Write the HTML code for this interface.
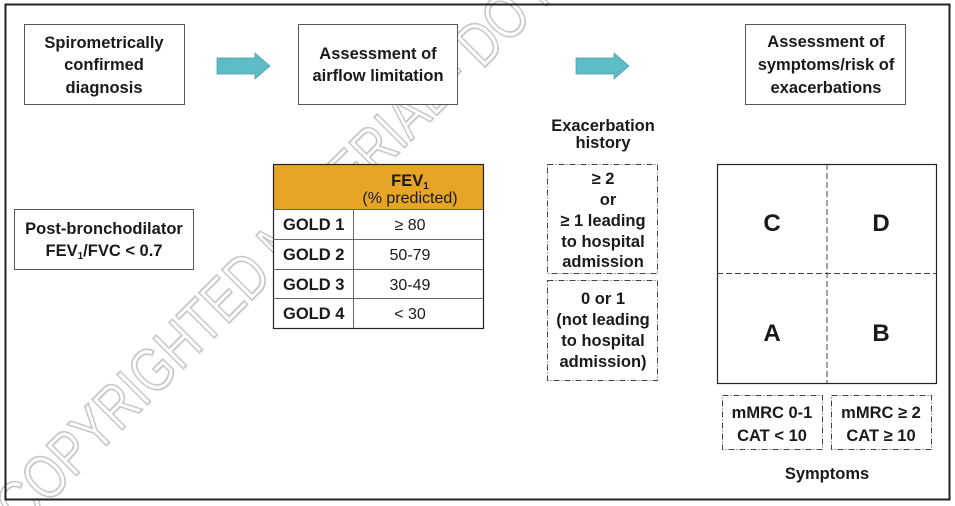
<!DOCTYPE html>
<html><head><meta charset="utf-8"><style>
html,body{margin:0;padding:0;background:#fff;width:955px;height:506px;overflow:hidden;}
svg{display:block;}
text{font-family:"Liberation Sans",sans-serif;fill:#1a1a1a;}
.b{font-weight:bold;}
</style></head><body>
<svg width="955" height="506" viewBox="0 0 955 506" xmlns="http://www.w3.org/2000/svg">
<rect x="0" y="0" width="955" height="506" fill="#fff"/>
<!-- watermark -->
<text x="0" y="0" transform="translate(22,530) rotate(-45) scale(0.9,1.15)" font-size="54" style="fill:none;stroke:#c8c8c8;stroke-width:1.6">COPYRIGHTED MATERIAL - DO NOT DUPLICATE</text>
<rect x="5.5" y="4.5" width="944" height="495" fill="none" stroke="#222" stroke-width="2"/>

<!-- top boxes -->
<rect x="24.5" y="24.5" width="160" height="80" fill="#fff" stroke="#555" stroke-width="1"/>
<text class="b" text-anchor="middle" font-size="16.5"><tspan x="104" y="48">Spirometrically</tspan><tspan x="104" y="70">confirmed</tspan><tspan x="104" y="93">diagnosis</tspan></text>
<rect x="298.5" y="24.5" width="159" height="80" fill="#fff" stroke="#555" stroke-width="1"/>
<text class="b" text-anchor="middle" font-size="16.5"><tspan x="378" y="59">Assessment of</tspan><tspan x="378" y="81">airflow limitation</tspan></text>
<rect x="745.5" y="24.5" width="160" height="80" fill="#fff" stroke="#555" stroke-width="1"/>
<text class="b" text-anchor="middle" font-size="16.5"><tspan x="826" y="47">Assessment of</tspan><tspan x="826" y="70">symptoms/risk of</tspan><tspan x="826" y="93">exacerbations</tspan></text>

<!-- arrows -->
<polygon points="217,58 255,58 255,53 270,66 255,79 255,74 217,74" fill="#5dbcc6" stroke="#4a9aa3" stroke-width="0.7"/>
<polygon points="576,58 614,58 614,53 629,66 614,79 614,74 576,74" fill="#5dbcc6" stroke="#4a9aa3" stroke-width="0.7"/>

<!-- post-bronchodilator -->
<rect x="14.5" y="209.5" width="179" height="60" fill="#fff" stroke="#555" stroke-width="1"/>
<text class="b" text-anchor="middle" font-size="16.5"><tspan x="104" y="234">Post-bronchodilator</tspan><tspan x="104" y="256">FEV<tspan font-size="10" dy="3">1</tspan><tspan dy="-3">/FVC &lt; 0.7</tspan></tspan></text>

<!-- table -->
<rect x="273" y="164" width="210" height="164" fill="#fff"/>
<rect x="273" y="164" width="210" height="45" fill="#e6a526"/>
<rect x="273.5" y="164.5" width="210" height="164" fill="none" stroke="#222" stroke-width="1.2"/>
<line x1="273" y1="209.5" x2="483" y2="209.5" stroke="#666"/>
<line x1="273" y1="239.5" x2="483" y2="239.5" stroke="#666"/>
<line x1="273" y1="269.5" x2="483" y2="269.5" stroke="#666"/>
<line x1="273" y1="298.5" x2="483" y2="298.5" stroke="#666"/>
<line x1="353.5" y1="209" x2="353.5" y2="328" stroke="#666"/>
<text class="b" text-anchor="middle" font-size="16.5" x="410" y="186">FEV<tspan font-size="10" dy="3">1</tspan></text>
<text text-anchor="middle" font-size="16" x="410" y="203">(% predicted)</text>
<text class="b" font-size="16.5"><tspan x="283" y="230">GOLD 1</tspan><tspan x="283" y="260">GOLD 2</tspan><tspan x="283" y="290">GOLD 3</tspan><tspan x="283" y="319">GOLD 4</tspan></text>
<text text-anchor="middle" font-size="16"><tspan x="410" y="230">≥ 80</tspan><tspan x="410" y="260">50-79</tspan><tspan x="410" y="290">30-49</tspan><tspan x="410" y="319">&lt; 30</tspan></text>

<!-- exacerbation -->
<text class="b" text-anchor="middle" font-size="16.5"><tspan x="603" y="131">Exacerbation</tspan><tspan x="603" y="148">history</tspan></text>
<rect x="547.5" y="164.5" width="110" height="109" fill="#fff" stroke="#444" stroke-width="1" stroke-dasharray="6,2,1,2"/>
<text class="b" text-anchor="middle" font-size="16.5"><tspan x="603" y="184">≥ 2</tspan><tspan x="608" y="205">or</tspan><tspan x="603" y="226">≥ 1 leading</tspan><tspan x="603" y="247">to hospital</tspan><tspan x="603" y="267">admission</tspan></text>
<rect x="547.5" y="280.5" width="110" height="100" fill="#fff" stroke="#444" stroke-width="1" stroke-dasharray="6,2,1,2"/>
<text class="b" text-anchor="middle" font-size="16.5"><tspan x="603" y="304">0 or 1</tspan><tspan x="603" y="325">(not leading</tspan><tspan x="603" y="346">to hospital</tspan><tspan x="603" y="367">admission)</tspan></text>

<!-- grid -->
<rect x="717.5" y="164.5" width="219" height="219" fill="#fff" stroke="#222" stroke-width="1.2"/>
<line x1="827" y1="164" x2="827" y2="383" stroke="#444" stroke-dasharray="6,3"/>
<line x1="717" y1="273.5" x2="936" y2="273.5" stroke="#444" stroke-dasharray="6,3"/>
<text class="b" text-anchor="middle" font-size="24"><tspan x="772" y="231">C</tspan><tspan x="881" y="231">D</tspan><tspan x="772" y="341">A</tspan><tspan x="881" y="341">B</tspan></text>

<rect x="722.5" y="395.5" width="100" height="54" fill="#fff" stroke="#444" stroke-dasharray="6,2,1,2"/>
<text class="b" text-anchor="middle" font-size="16.5"><tspan x="772" y="418">mMRC 0-1</tspan><tspan x="772" y="441">CAT &lt; 10</tspan></text>
<rect x="831.5" y="395.5" width="100" height="54" fill="#fff" stroke="#444" stroke-dasharray="6,2,1,2"/>
<text class="b" text-anchor="middle" font-size="16.5"><tspan x="881" y="418">mMRC ≥ 2</tspan><tspan x="881" y="441">CAT ≥ 10</tspan></text>
<text class="b" text-anchor="middle" font-size="16.5" x="827" y="479">Symptoms</text>
</svg>
</body></html>
